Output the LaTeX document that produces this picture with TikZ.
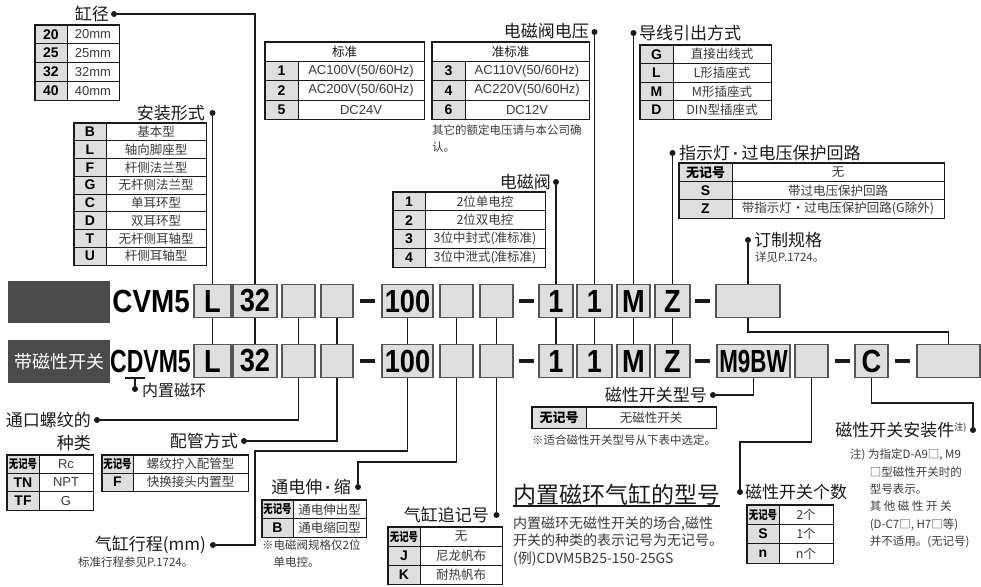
\documentclass[tikz,border=0pt]{standalone}
\usepackage{fontspec}
\usepackage{graphicx}
\setmainfont{Liberation Sans}
\newfontfamily\cjk{Noto Sans CJK SC}
\definecolor{noir}{HTML}{1A1A1A}
\definecolor{grisclair}{HTML}{DEDEDE}
\definecolor{grisfonce}{HTML}{555555}
\definecolor{grisbarre}{HTML}{4B4B4B}
\definecolor{texte}{HTML}{3A3A3A}
\newcommand\fsz[2]{\fontsize{#1}{#2}\selectfont}
\newcommand\cnd[2][0.85]{\scalebox{#1}[1]{#2}}
\newcommand\nomark{\scalebox{0.78}[1]{\cjk\bfseries\fsz{12}{12}无记号}}
\newcommand\nomarkw{{\cjk\bfseries\fsz{13}{13}无记号}}
\newcommand\mdot{\,{\rmfamily\bfseries ·}\,}
\tikzset{
  casecode/.style={draw=grisfonce,line width=1.4pt,fill=grisclair,minimum height=33pt,inner sep=0pt,font=\bfseries\fsz{32}{32}},
  tiret/.style={fill=noir,minimum width=15pt,minimum height=3.6pt,inner sep=0pt},
  cle/.style={draw=noir,line width=0.6pt,fill=grisclair,inner sep=0pt,font=\bfseries\fsz{14}{14}},
  val/.style={draw=noir,line width=0.6pt,fill=white,inner sep=0pt,text=texte,font=\fsz{13}{13}},
  valzh/.style={val,font=\cjk\fsz{12.5}{13}},
  titre/.style={inner sep=0pt,text=noir,font=\cjk\fsz{17}{17}},
  remarque/.style={inner sep=0pt,align=left,text=texte,font=\cjk\fsz{11.5}{16.5}},
  pastille/.style={circle,fill=noir,inner sep=0pt,minimum size=6pt},
  lien/.style={line width=1.1pt,color=noir},
  barre/.style={fill=grisbarre,inner sep=0pt,minimum width=102pt},
  cadre/.style={line width=1pt,color=noir},
}
\begin{document}
\begin{tikzpicture}[x=1pt,y=-1pt]
  \useasboundingbox (0,0) rectangle (981,586);
  \node[barre,minimum height=42] (barre1) at (59,302) {};
  \node[barre,minimum height=43,text=white,font=\cjk\fsz{18}{18}] (barre2) at (59,361.5) {带磁性开关};
  \node[inner sep=0pt,anchor=east,font=\bfseries\fsz{32}{32}] (cvm) at (190,301) {\cnd[0.87]{CVM5}};
  \node[inner sep=0pt,anchor=east,font=\bfseries\fsz{32}{32}] (cdvm) at (191,361) {\cnd[0.72]{CDVM5}};
  \foreach \r/\y in {1/301,2/361}{
    \foreach \n/\x/\w/\t in {a/212.5/37/L,b/255/44/32,c/298.5/33/{},d/337/32/{},e/407.5/51/100,f/456.5/33/{},g/496.5/33/{},h/556/34/1,i/594.5/35/1,j/633.5/33/M,k/672.5/35/Z}
      \node[casecode,minimum width=\w] (r\r\n) at (\x,\y) {\cnd{\t}};
    \node[tiret] (tir\r-1) at (367.5,\y) {};
    \node[tiret] (tir\r-2) at (526.5,\y) {};
    \node[tiret] (tir\r-3) at (702.5,\y) {};
  }
  \node[casecode,minimum width=64] (r1m) at (748,301) {};
  \node[casecode,minimum width=73] (r2m) at (753.5,361) {\cnd[0.7]{M9BW}};
  \node[casecode,minimum width=33] (r2n) at (811.5,361) {};
  \node[tiret] (tir2-4) at (842.5,361) {};
  \node[casecode,minimum width=33] (r2o) at (871.5,361) {\cnd{C}};
  \node[tiret] (tir2-5) at (902.5,361) {};
  \node[casecode,minimum width=63] (r2p) at (948.5,361) {};
  \foreach \n in {a,...,k}
    \draw[lien] (r1\n.south) -- (r2\n.north);
  \coordinate (kcust) at (948.5,332);
  \draw[lien] (r1m.south) |- (kcust) -- (r2p.north);

  \node[pastille] (pbore) at (114,14) {};
  \node[titre,anchor=east] (tbore) at (109,14) {缸径};
  \draw[lien] (pbore) -| (r1b.north);
  \foreach \k/\v [count=\i] in {20/20mm,25/25mm,32/32mm,40/40mm}{
    \node[cle,minimum width=32,minimum height=18.75] (borek\i) at (51,{25+18.75*(\i-0.5)}) {\k};
    \node[val,minimum width=52,minimum height=18.75] (borev\i) at (93,{25+18.75*(\i-0.5)}) {\v};
  }
  \draw[cadre] (borek1.north west) rectangle (borev4.south east);

  \node[pastille] (pfix) at (212.5,113) {};
  \node[titre,anchor=east] (tfix) at (205,113) {安装形式};
  \draw[lien] (pfix) -- (r1a.north);
  \foreach \k/\v [count=\i] in {B/基本型,L/轴向脚座型,F/杆侧法兰型,G/无杆侧法兰型,C/单耳环型,D/双耳环型,T/无杆侧耳轴型,U/杆侧耳轴型}{
    \node[cle,minimum width=32,minimum height=17.75] (fixk\i) at (90,{123+17.75*(\i-0.5)}) {\k};
    \node[valzh,minimum width=100,minimum height=17.75] (fixv\i) at (156,{123+17.75*(\i-0.5)}) {\v};
  }
  \draw[cadre] (fixk1.north west) rectangle (fixv8.south east);

  \node[pastille] (pvolt) at (594.5,32) {};
  \node[titre,anchor=east] (tvolt) at (589,31) {电磁阀电压};
  \draw[lien] (pvolt) -- (r1i.north);
  \node[valzh,text=noir,minimum width=159,minimum height=19] (stdh) at (344.5,51.5) {标准};
  \foreach \k/\v [count=\i] in {1/{AC100V(50/60Hz)},2/{AC200V(50/60Hz)},5/DC24V}{
    \node[cle,minimum width=33,minimum height=19.5] (stdk\i) at (281.5,{61+19.5*(\i-0.5)}) {\k};
    \node[val,minimum width=126,minimum height=19.5] (stdv\i) at (361,{61+19.5*(\i-0.5)}) {\v};
  }
  \draw[cadre] (stdh.north west) rectangle (stdv3.south east);
  \node[valzh,text=noir,minimum width=157,minimum height=19] (semh) at (510.5,51.5) {准标准};
  \foreach \k/\v [count=\i] in {3/{AC110V(50/60Hz)},4/{AC220V(50/60Hz)},6/DC12V}{
    \node[cle,minimum width=33,minimum height=19.5] (semk\i) at (448.5,{61+19.5*(\i-0.5)}) {\k};
    \node[val,minimum width=124,minimum height=19.5] (semv\i) at (527,{61+19.5*(\i-0.5)}) {\v};
  }
  \draw[cadre] (semh.north west) rectangle (semv3.south east);
  \node[remarque,anchor=north west] (nvolt) at (432,125) {其它的额定电压请与本公司确\\认。};

  \node[pastille] (pwire) at (633.5,33) {};
  \node[titre,anchor=west] (twire) at (639,33) {导线引出方式};
  \draw[lien] (pwire) -- (r1j.north);
  \foreach \k/\v [count=\i] in {G/直接出线式,L/L形插座式,M/M形插座式,D/DIN型插座式}{
    \node[cle,minimum width=33,minimum height=18.5] (wirek\i) at (656.5,{45+18.5*(\i-0.5)}) {\k};
    \node[valzh,minimum width=98,minimum height=18.5] (wirev\i) at (722,{45+18.5*(\i-0.5)}) {\v};
  }
  \draw[cadre] (wirek1.north west) rectangle (wirev4.south east);

  \node[pastille] (plamp) at (672.5,153) {};
  \node[titre,anchor=west] (tlamp) at (679,153) {指示灯\mdot 过电压保护回路};
  \draw[lien] (plamp) -- (r1k.north);
  \foreach \k/\v [count=\i] in {\nomarkw/无,S/带过电压保护回路,Z/带指示灯·过电压保护回路(G除外)}{
    \node[cle,minimum width=53,minimum height=18.33] (lampk\i) at (705.5,{163+18.33*(\i-0.5)}) {\k};
    \node[valzh,minimum width=212,minimum height=18.33] (lampv\i) at (838,{163+18.33*(\i-0.5)}) {\v};
  }
  \draw[cadre] (lampk1.north west) rectangle (lampv3.south east);

  \node[pastille] (pvalve) at (556,182) {};
  \node[titre,anchor=east] (tvalve) at (551,182) {电磁阀};
  \draw[lien] (pvalve) -- (r1h.north);
  \foreach \k/\v [count=\i] in {1/2位单电控,2/2位双电控,3/3位中封式(准标准),4/3位中泄式(准标准)}{
    \node[cle,minimum width=32,minimum height=18.75] (valvek\i) at (409,{192+18.75*(\i-0.5)}) {\k};
    \node[valzh,minimum width=120,minimum height=18.75] (valvev\i) at (485,{192+18.75*(\i-0.5)}) {\v};
  }
  \draw[cadre] (valvek1.north west) rectangle (valvev4.south east);

  \node[pastille] (pcust) at (748,240) {};
  \node[titre,anchor=west] (tcust) at (754,240) {订制规格};
  \node[remarque,anchor=west] (ncust) at (755,257) {详见P.1724。};
  \draw[lien] (pcust) -- (r1m.north);

  \coordinate (aimg) at (125,378);
  \coordinate (aimd) at (145,378);
  \node[pastille] (pring) at (135,389) {};
  \node[titre,anchor=west,font=\cjk\fsz{16}{16}] (tring) at (142,390) {内置磁环};
  \draw[lien] (aimg) -- (aimd);
  \draw[lien] (pring) -- (pring |- aimg);

  \node[pastille] (pport) at (97,420) {};
  \node[titre,anchor=east] (tport) at (91,420) {通口螺纹的};
  \node[titre,anchor=east] (tport2) at (91,443) {种类};
  \draw[lien] (pport) -| (r2c.south);
  \foreach \k/\v [count=\i] in {\nomark/Rc,TN/NPT,TF/G}{
    \node[cle,minimum width=32,minimum height=18.33] (portk\i) at (23,{455+18.33*(\i-0.5)}) {\k};
    \node[val,minimum width=54,minimum height=18.33] (portv\i) at (66,{455+18.33*(\i-0.5)}) {\v};
  }
  \draw[cadre] (portk1.north west) rectangle (portv3.south east);

  \node[pastille] (ppipe) at (244,441) {};
  \node[titre,anchor=east] (tpipe) at (238,441) {配管方式};
  \draw[lien] (ppipe) -| (r2d.south);
  \foreach \k/\v [count=\i] in {\nomark/螺纹拧入配管型,F/快换接头内置型}{
    \node[cle,minimum width=31,minimum height=18] (pipek\i) at (117.5,{455+18*(\i-0.5)}) {\k};
    \node[valzh,minimum width=115,minimum height=18] (pipev\i) at (190.5,{455+18*(\i-0.5)}) {\v};
  }
  \draw[cadre] (pipek1.north west) rectangle (pipev2.south east);

  \node[pastille] (pstroke) at (213,545) {};
  \node[titre,anchor=east] (tstroke) at (206,545) {气缸行程(mm)};
  \node[remarque,anchor=west] (nstroke) at (78,562) {标准行程参见P.1724。};
  \coordinate (kstroke) at (255,451);
  \draw[lien] (pstroke) -| (kstroke) -| (r2e.south);

  \node[pastille] (pext) at (358,487) {};
  \node[titre,anchor=east] (text) at (351,487) {通电伸\mdot 缩};
  \coordinate (kext) at (358,462);
  \draw[lien] (pext) -- (kext) -| (r2f.south);
  \foreach \k/\v [count=\i] in {\nomark/通电伸出型,B/通电缩回型}{
    \node[cle,minimum width=31,minimum height=18.5] (extk\i) at (277.5,{500+18.5*(\i-0.5)}) {\k};
    \node[valzh,minimum width=73,minimum height=18.5] (extv\i) at (329.5,{500+18.5*(\i-0.5)}) {\v};
  }
  \draw[cadre] (extk1.north west) rectangle (extv2.south east);
  \node[remarque,anchor=north west] (next) at (262,540) {※电磁阀规格仅2位\\\hspace*{1em}单电控。};

  \node[pastille] (psuffix) at (496.5,515) {};
  \node[titre,anchor=east] (tsuffix) at (489,515) {气缸追记号};
  \draw[lien] (psuffix) -- (r2g.south);
  \foreach \k/\v [count=\i] in {\nomark/无,J/尼龙帆布,K/耐热帆布}{
    \node[cle,minimum width=32,minimum height=19] (sufk\i) at (404,{527+19*(\i-0.5)}) {\k};
    \node[valzh,minimum width=82,minimum height=19] (sufv\i) at (461,{527+19*(\i-0.5)}) {\v};
  }
  \draw[cadre] (sufk1.north west) rectangle (sufv3.south east);

  \node[titre,anchor=west,font=\cjk\fsz{23}{23}] (modele) at (513,495) {内置磁环气缸的型号};
  \draw[line width=1.2pt,color=noir] (modele.south west) -- (modele.south east);
  \node[remarque,anchor=north west,font=\cjk\fsz{14}{17.5}] (modtxt) at (513,516) {内置磁环无磁性开关的场合,磁性\\开关的种类的表示记号为无记号。\\(例)CDVM5B25-150-25GS};

  \node[pastille] (pswtype) at (713,395) {};
  \node[titre,anchor=east] (tswtype) at (707,395) {磁性开关型号};
  \draw[lien] (pswtype) -| (r2m.south);
  \node[cle,minimum width=54,minimum height=21] (swtk) at (559,417.5) {\nomarkw};
  \node[valzh,minimum width=130,minimum height=21] (swtv) at (651,417.5) {无磁性开关};
  \draw[cadre] (swtk.north west) rectangle (swtv.south east);
  \node[remarque,anchor=west] (nswtype) at (532,440) {※适合磁性开关型号从下表中选定。};

  \node[pastille] (pswnum) at (740,492) {};
  \node[titre,anchor=west] (tswnum) at (745,492) {磁性开关个数};
  \coordinate (kswnum) at (740,442);
  \draw[lien] (pswnum) -- (kswnum) -| (r2n.south);
  \foreach \k/\v [count=\i] in {\nomark/2个,S/1个,n/n个}{
    \node[cle,minimum width=32,minimum height=19.33] (numk\i) at (763,{505+19.33*(\i-0.5)}) {\k};
    \node[valzh,minimum width=54,minimum height=19.33] (numv\i) at (806,{505+19.33*(\i-0.5)}) {\v};
  }
  \draw[cadre] (numk1.north west) rectangle (numv3.south east);

  \node[pastille] (pswmnt) at (973,430) {};
  \node[titre,anchor=east] (tswmnt) at (967,430) {磁性开关安装件\textsuperscript{\fsz{9}{9}注)}};
  \coordinate (kswmnt) at (973,403);
  \draw[lien] (pswmnt) -- (kswmnt) -| (r2o.south);
  \node[remarque,anchor=north west,font=\cjk\fsz{11.5}{17.3}] (nswmnt) at (850,449) {注) 为指定D-A9□, M9\\\hspace*{1.7em}□型磁性开关时的\\\hspace*{1.7em}型号表示。\\\hspace*{1.7em}其 他 磁 性 开 关\\\hspace*{1.7em}(D-C7□, H7□等)\\\hspace*{1.7em}并不适用。(无记号)};
\end{tikzpicture}
\end{document}
